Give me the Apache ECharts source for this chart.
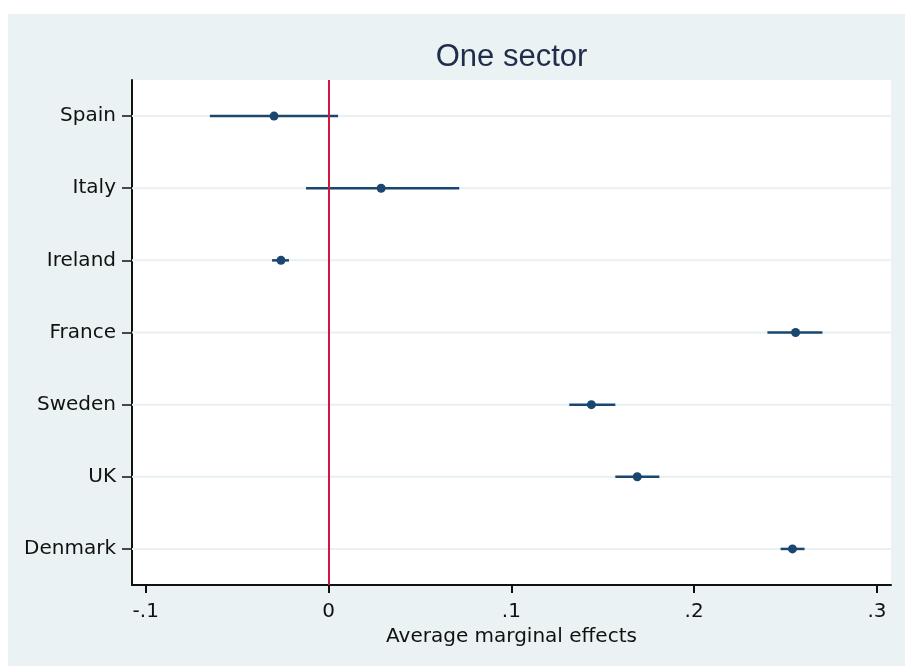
<!DOCTYPE html>
<html>
<head>
<meta charset="utf-8">
<script src="https://cdn.jsdelivr.net/npm/echarts@6/dist/echarts.min.js"></script>
<style>
html,body{margin:0;padding:0;background:#ffffff;}
#chart{width:905px;height:666px;}
</style>
</head>
<body>
<div id="chart"></div>
<script>
// Data
const countries = ['Spain', 'Italy', 'Ireland', 'France', 'Sweden', 'UK', 'Denmark'];
const effects   = [-0.0298, 0.0288, -0.0260, 0.2555, 0.1438, 0.1689, 0.2538];
const ciLow     = [-0.0649, -0.0123, -0.0309, 0.2401, 0.1317, 0.1569, 0.2473];
const ciHigh    = [0.0052, 0.0715, -0.0216, 0.2702, 0.1569, 0.1810, 0.2604];
const xTicks    = [-0.1, 0, 0.1, 0.2, 0.3];
const xTickLabels = ['-.1', '0', '.1', '.2', '.3'];
const titleText = 'One sector';
const xTitle = 'Average marginal effects';

const navy = '#1a476f';
const chart = echarts.init(document.getElementById('chart'), null, {renderer: 'canvas'});

const ciData = countries.map((c, i) => [i, ciLow[i], ciHigh[i]]);
const ptData = countries.map((c, i) => [effects[i], c]);

chart.setOption({
  animation: false,
  backgroundColor: '#ffffff',
  graphic: [
    {type: 'rect', z: -100, silent: true, shape: {x: 8, y: 14, width: 897, height: 652}, style: {fill: '#eaf2f3'}},
    {type: 'text', z: 100, x: 511.5, y: 57, style: {text: titleText, fill: '#1f2d4a', font: '31px "Liberation Sans", Arial, sans-serif', textAlign: 'center', textVerticalAlign: 'middle'}}
  ],
  grid: {left: 132, right: 14, top: 80, bottom: 81, show: true, backgroundColor: '#ffffff', borderWidth: 0},
  xAxis: {
    type: 'value',
    min: -0.1075,
    max: 0.3077,
    name: xTitle,
    nameLocation: 'middle',
    nameGap: 35,
    nameTextStyle: {fontFamily: '"DejaVu Sans", sans-serif', fontSize: 20, color: '#111111'},
    axisLine: {show: true, onZero: false, lineStyle: {color: '#111111', width: 2}},
    axisTick: {show: true, length: 8, customValues: xTicks, lineStyle: {color: '#111111', width: 2}},
    axisLabel: {
      customValues: xTicks,
      margin: 17,
      fontFamily: '"DejaVu Sans", sans-serif', fontSize: 20, color: '#111111',
      formatter: function (v) {
        const idx = xTicks.findIndex(t => Math.abs(t - v) < 1e-9);
        return idx >= 0 ? xTickLabels[idx] : '';
      }
    },
    splitLine: {show: false}
  },
  yAxis: {
    type: 'category',
    data: countries,
    inverse: true,
    boundaryGap: true,
    axisLine: {show: true, onZero: false, lineStyle: {color: '#111111', width: 2}},
    axisTick: {show: true, alignWithLabel: true, length: 10, lineStyle: {color: '#111111', width: 1.5}},
    axisLabel: {margin: 16, fontFamily: '"DejaVu Sans", sans-serif', fontSize: 20, color: '#111111'},
    splitLine: {show: false}
  },
  series: [
    {
      type: 'custom',
      data: ciData,
      encode: {x: [1, 2], y: 0},
      z: 3,
      renderItem: function (params, api) {
        const i = api.value(0);
        const cs = params.coordSys;
        const p1 = api.coord([api.value(1), i]);
        const p2 = api.coord([api.value(2), i]);
        return {
          type: 'group',
          children: [
            {type: 'line', z2: 0, shape: {x1: cs.x, y1: p1[1], x2: cs.x + cs.width, y2: p1[1]}, style: {stroke: '#e8f0f2', lineWidth: 2}},
            {type: 'line', z2: 10, shape: {x1: p1[0], y1: p1[1], x2: p2[0], y2: p2[1]}, style: {stroke: navy, lineWidth: 2.5}}
          ]
        };
      },
      markLine: {
        silent: true,
        symbol: ['none', 'none'],
        label: {show: false},
        lineStyle: {color: '#d0173f', width: 2, type: 'solid'},
        data: [{xAxis: 0}]
      }
    },
    {
      type: 'scatter',
      data: ptData,
      symbol: 'circle',
      symbolSize: 9,
      z: 4,
      itemStyle: {color: navy, opacity: 1}
    }
  ]
});
</script>
</body>
</html>
